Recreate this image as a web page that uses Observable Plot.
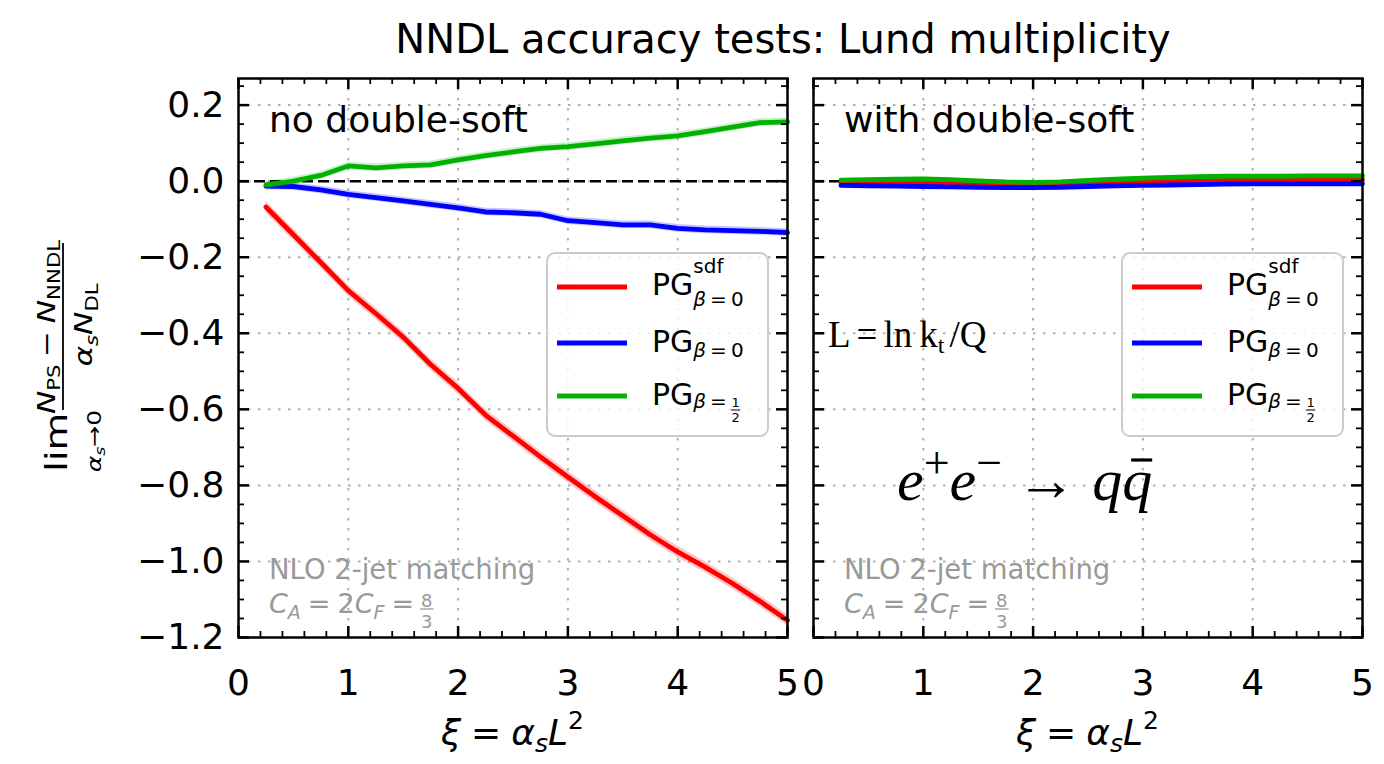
<!DOCTYPE html>
<html><head><meta charset="utf-8">
<script src="https://cdn.jsdelivr.net/npm/d3@7"></script>
<script src="https://cdn.jsdelivr.net/npm/@observablehq/plot@0.6"></script>
<style>
body{margin:0;background:#fff;}
#fig{position:relative;width:1384px;height:764px;overflow:hidden;background:#fff;}
#fig svg{position:absolute;top:0;overflow:visible;}
</style></head><body><div id="fig"></div>
<script>
// ---- data ----
const xs = [0.25,0.5,0.75,1,1.25,1.5,1.75,2,2.25,2.5,2.75,3,3.25,3.5,3.75,4,4.25,4.5,4.75,5];
const leftRed   = [-0.068,-0.141,-0.214,-0.288,-0.348,-0.410,-0.482,-0.545,-0.615,-0.670,-0.725,-0.778,-0.830,-0.880,-0.930,-0.975,-1.015,-1.058,-1.105,-1.155];
const leftBlue  = [-0.013,-0.014,-0.023,-0.035,-0.043,-0.052,-0.061,-0.070,-0.081,-0.083,-0.087,-0.104,-0.109,-0.115,-0.115,-0.124,-0.128,-0.130,-0.132,-0.135];
const leftGreen = [-0.010,0.000,0.015,0.040,0.035,0.040,0.043,0.056,0.067,0.077,0.086,0.091,0.098,0.106,0.113,0.119,0.130,0.142,0.154,0.156];
const rightRed   = [-0.004,-0.004,-0.004,-0.004,-0.005,-0.007,-0.009,-0.010,-0.009,-0.006,-0.004,-0.002,0.000,0.001,0.002,0.003,0.003,0.003,0.004,0.004];
const rightBlue  = [-0.011,-0.012,-0.013,-0.014,-0.015,-0.016,-0.017,-0.017,-0.016,-0.014,-0.012,-0.011,-0.010,-0.009,-0.008,-0.007,-0.007,-0.007,-0.007,-0.007];
const rightGreen = [0.003,0.004,0.005,0.006,0.004,0.001,-0.002,-0.003,-0.002,0.002,0.005,0.008,0.010,0.012,0.013,0.013,0.013,0.014,0.014,0.014];
const leftErr  = [0.015, 0.010, 0.010];
const rightErr = [0.004, 0.004, 0.004];
const seriesColors = ["#ff0000", "#0000ff", "#00b200"];
const xTicks = [0, 1, 2, 3, 4, 5];
const yTicks = [-1.2, -1.0, -0.8, -0.6, -0.4, -0.2, 0.0, 0.2];
const xMinor = [0.2,0.4,0.6,0.8,1.2,1.4,1.6,1.8,2.2,2.4,2.6,2.8,3.2,3.4,3.6,3.8,4.2,4.4,4.6,4.8];
const yMinor = [-1.15,-1.1,-1.05,-0.95,-0.9,-0.85,-0.75,-0.7,-0.65,-0.55,-0.5,-0.45,-0.35,-0.3,-0.25,-0.15,-0.1,-0.05,0.05,0.1,0.15,0.25];
const yDomain = [-1.2, 0.27];
const titleText = "NNDL accuracy tests: Lund multiplicity";
const panelTitles = ["no double-soft", "with double-soft"];
const noteText = "NLO 2-jet matching";

const SANS = "DejaVu Sans", SERIF = "Liberation Serif";
const H = 764, FT = 78, FB = 637, FH = FB - FT;
const fig = document.getElementById("fig");

function panel({left, width, fl, fr, series, errs, showY}) {
  const FW = fr - fl;
  const marks = [];
  const grid = {stroke: "#b0b0b0", strokeWidth: 2, strokeDasharray: "2.5,7.5"};
  marks.push(Plot.ruleX(xTicks.filter(d => d > 0 && d < 5), {x: d => d, ...grid}));
  marks.push(Plot.ruleY(yTicks.filter(d => d > -1.2), {y: d => d, ...grid}));
  marks.push(Plot.ruleY([0], {y: d => d, stroke: "black", strokeWidth: 2.5, strokeDasharray: "11,5"}));
  series.forEach((vals, i) => {
    const data = xs.map((x, j) => ({x, y: vals[j]}));
    marks.push(Plot.areaY(data, {x: "x", y1: d => d.y - errs[i], y2: d => d.y + errs[i], fill: seriesColors[i], fillOpacity: 0.22}));
    marks.push(Plot.line(data, {x: "x", y: "y", stroke: seriesColors[i], strokeWidth: 4.8}));
  });
  const tk = (w) => ({stroke: "black", strokeWidth: w});
  marks.push(Plot.tickX(xTicks, {x: d => d, insetTop: FH - 11, ...tk(2.5)}));
  marks.push(Plot.tickX(xTicks, {x: d => d, insetBottom: FH - 11, ...tk(2.5)}));
  marks.push(Plot.tickX(xMinor, {x: d => d, insetTop: FH - 6, ...tk(1.8)}));
  marks.push(Plot.tickX(xMinor, {x: d => d, insetBottom: FH - 6, ...tk(1.8)}));
  marks.push(Plot.tickY(yTicks, {y: d => d, insetRight: FW - 11, ...tk(2.5)}));
  marks.push(Plot.tickY(yTicks, {y: d => d, insetLeft: FW - 11, ...tk(2.5)}));
  marks.push(Plot.tickY(yMinor, {y: d => d, insetRight: FW - 6, ...tk(1.8)}));
  marks.push(Plot.tickY(yMinor, {y: d => d, insetLeft: FW - 6, ...tk(1.8)}));
  marks.push(Plot.frame({stroke: "black", strokeWidth: 2.5}));
  marks.push(Plot.axisX({ticks: xTicks, tickSize: 0, tickPadding: 32, tickFormat: d3.format("d"), label: null, fontSize: 36}));
  if (showY) marks.push(Plot.axisY({ticks: yTicks, tickSize: 0, tickPadding: 14, tickFormat: d3.format(".1f"), label: null, fontSize: 36}));
  const svg = Plot.plot({
    width, height: H,
    marginLeft: fl - left, marginRight: left + width - fr, marginTop: FT, marginBottom: H - FB,
    x: {domain: [0, 5]},
    y: {domain: yDomain, axis: null},
    style: {fontFamily: SANS, color: "black", background: "transparent", overflow: "visible"},
    marks
  });
  svg.style.left = left + "px";
  fig.appendChild(svg);
  return svg;
}

panel({left: 0, width: 800, fl: 238, fr: 787, series: [leftRed, leftBlue, leftGreen], errs: leftErr, showY: true});
panel({left: 800, width: 584, fl: 813, fr: 1362, series: [rightRed, rightBlue, rightGreen], errs: rightErr, showY: false});

// ---- overlay text ----
const ov = d3.select(fig).append("svg").attr("width", 1384).attr("height", 764).style("left", "0px").style("pointer-events", "none");

function mk(g, p, fill, family) {
  return g.append("text").attr("y", p.dy || 0).attr("font-size", p.size)
    .attr("font-family", p.family || family).attr("font-style", p.it ? "italic" : null)
    .attr("fill", p.fill || fill).text(p.t);
}
function len(t) { return t.node().getComputedTextLength(); }
function layout(g, parts, cx, fill, family, size) {
  for (const p0 of parts) {
    const p = {size, ...p0};
    if (p.gap !== undefined) { cx += p.gap; continue; }
    if (p.stack) { let m = cx; for (const s of p.stack) m = Math.max(m, layout(g, s, cx, fill, family, size)); cx = m; continue; }
    if (p.frac) {
      const tn = mk(g, {size, ...p.frac[0]}, fill, family), td = mk(g, {size, ...p.frac[1]}, fill, family);
      const w = Math.max(len(tn), len(td)) + (p.pad || 4);
      tn.attr("x", cx + w / 2).attr("text-anchor", "middle");
      td.attr("x", cx + w / 2).attr("text-anchor", "middle");
      g.append("line").attr("x1", cx + 1).attr("x2", cx + w - 1).attr("y1", p.bar).attr("y2", p.bar)
        .attr("stroke", fill).attr("stroke-width", p.bw || 1.3);
      cx += w; continue;
    }
    const t = mk(g, p, fill, family); t.attr("x", cx);
    const w = len(t);
    if (p.ob !== undefined) {
      g.append("line").attr("x1", cx + w * 0.3).attr("x2", cx + w * 1.0).attr("y1", p.ob).attr("y2", p.ob)
        .attr("stroke", fill).attr("stroke-width", 3.2);
    }
    cx += w;
  }
  return cx;
}
function rich(parent, parts, {x = 0, y = 0, anchor = "start", fill = "#000", family = SANS, size = 20} = {}) {
  const g = parent.append("g");
  const w = layout(g, parts, 0, fill, family, size);
  const sh = anchor === "middle" ? -w / 2 : anchor === "end" ? -w : 0;
  g.attr("transform", `translate(${x + sh},${y})`);
  return g;
}

// title
rich(ov, [{t: titleText}], {x: 783, y: 53, anchor: "middle", size: 40});

// y label (rotated)
const S = 1.25;
const yl = ov.append("g").attr("transform", `translate(0,472) rotate(-90) scale(${S},1)`);
rich(yl, [{t: "lim"}], {x: 0, y: 67, size: 31});
rich(yl, [{t: "α", it: 1}, {t: "s", it: 1, size: 14, dy: 4}, {t: "→0"}], {x: 31 / S, y: 101, anchor: "middle", size: 20});
rich(yl, [{t: "N", it: 1}, {t: "PS", size: 17, dy: 5}, {gap: 6}, {t: "−"}, {gap: 6}, {t: "N", it: 1}, {t: "NNDL", size: 17, dy: 5}], {x: 145 / S, y: 55, anchor: "middle", size: 25});
yl.append("line").attr("x1", 62 / S).attr("x2", 229 / S).attr("y1", 63).attr("y2", 63).attr("stroke", "#000").attr("stroke-width", 1.8);
rich(yl, [{t: "α", it: 1}, {t: "s", it: 1, size: 17, dy: 6}, {t: "N", it: 1}, {t: "DL", size: 17, dy: 6}], {x: 147 / S, y: 92, anchor: "middle", size: 25});

// x labels
const xlab = [{t: "ξ", it: 1}, {gap: 10}, {t: "="}, {gap: 10}, {t: "α", it: 1}, {t: "s", it: 1, size: 25, dy: 7}, {t: "L", it: 1}, {t: "2", size: 25, dy: -16}];
rich(ov, xlab, {x: 512.5, y: 745, anchor: "middle", size: 36});
rich(ov, xlab, {x: 1087.5, y: 745, anchor: "middle", size: 36});

// per-panel annotations and legends
[238, 813].forEach((x0, k) => {
  rich(ov, [{t: panelTitles[k]}], {x: x0 + 31, y: 132, size: 36});
  rich(ov, [{t: noteText}], {x: x0 + 31, y: 579, size: 27.5, fill: "#999"});
  rich(ov, [{t: "C", it: 1}, {t: "A", it: 1, size: 19, dy: 6}, {gap: 7}, {t: "="}, {gap: 7}, {t: "2"}, {t: "C", it: 1}, {t: "F", it: 1, size: 19, dy: 6}, {gap: 7}, {t: "="}, {gap: 5},
    {frac: [{t: "8", size: 18, dy: -6}, {t: "3", size: 18, dy: 15}], bar: -4}], {x: x0 + 31, y: 613, size: 27, fill: "#999"});
  // legend
  ov.append("rect").attr("x", x0 + 309).attr("y", 253).attr("width", 221).attr("height", 183).attr("rx", 8)
    .attr("fill", "white").attr("fill-opacity", 0.8).attr("stroke", "#cccccc").attr("stroke-width", 2);
  const rows = [287, 343, 396];
  rows.forEach((ry, i) => {
    ov.append("line").attr("x1", x0 + 319).attr("x2", x0 + 389).attr("y1", ry).attr("y2", ry)
      .attr("stroke", seriesColors[i]).attr("stroke-width", 4.8);
  });
  const lx = x0 + 414;
  rich(ov, [{t: "PG"}, {stack: [[{t: "sdf", size: 20, dy: -22}], [{t: "β", it: 1, size: 20, dy: 11}, {gap: 4}, {t: "=", size: 20, dy: 11}, {gap: 4}, {t: "0", size: 20, dy: 11}]]}], {x: lx, y: 295, size: 30});
  rich(ov, [{t: "PG"}, {t: "β", it: 1, size: 20, dy: 5}, {gap: 4}, {t: "=", size: 20, dy: 5}, {gap: 4}, {t: "0", size: 20, dy: 5}], {x: lx, y: 352, size: 30});
  rich(ov, [{t: "PG"}, {t: "β", it: 1, size: 20, dy: 3}, {gap: 4}, {t: "=", size: 20, dy: 3}, {gap: 3},
    {frac: [{t: "1", size: 13, dy: 2}, {t: "2", size: 13, dy: 17}], bar: 5, pad: 3, bw: 1}], {x: lx, y: 405, size: 30});
});

// right-panel extra annotations
rich(ov, [{t: "L"}, {gap: 6}, {t: "="}, {gap: 6}, {t: "ln"}, {gap: 7}, {t: "k"}, {t: "t", size: 24, dy: 6}, {gap: 5}, {t: "/Q"}], {x: 828, y: 347, size: 37, family: SERIF});
rich(ov, [{t: "e", it: 1}, {t: "+", size: 46, dy: -22}, {t: "e", it: 1}, {t: "−", size: 46, dy: -22}, {gap: 14}, {t: "→"}, {gap: 16}, {t: "q", it: 1}, {t: "q", it: 1, ob: -40}],
  {x: 897, y: 500, size: 60, family: SERIF});
</script></body></html>
